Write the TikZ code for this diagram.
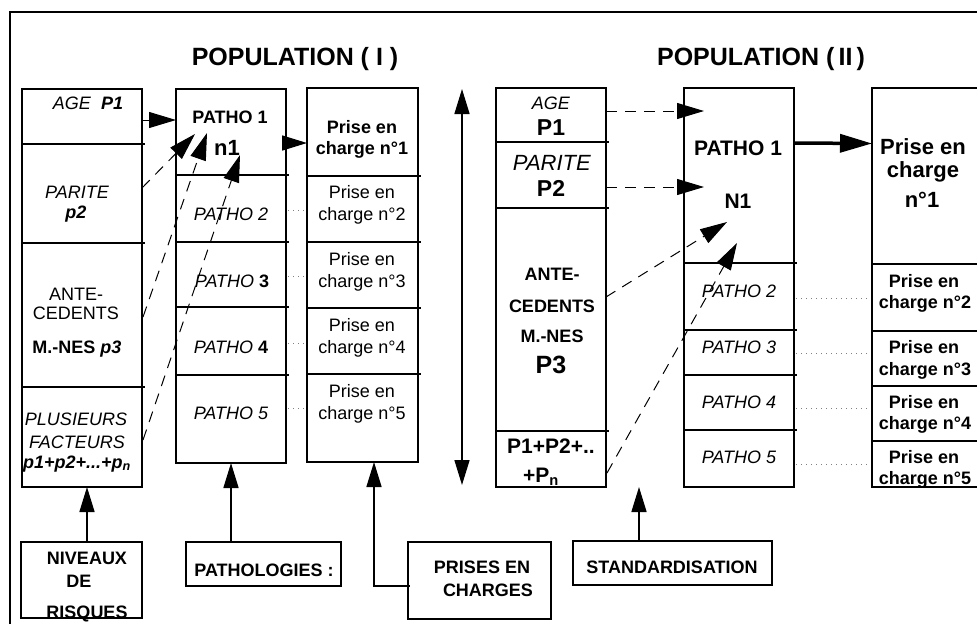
\documentclass[tikz,border=0pt]{standalone}
\usepackage{fontspec}
\setmainfont{Liberation Sans}
\usetikzlibrary{arrows.meta,fit,calc}
\newcommand\fz[1]{\fontsize{#1}{#1}\selectfont}
\begin{document}
\begin{tikzpicture}[x=1pt,y=-1pt,
  colbox/.style={draw, line width=2pt, inner sep=0pt, outer sep=0pt},
  area/.style={inner sep=0pt, outer sep=0pt},
  rule/.style={line width=1.6pt},
  txt/.style={inner sep=0pt, outer sep=0pt, anchor=base, font=\fz{18}},
  dasharrow/.style={line width=1pt, dash pattern=on 11pt off 8pt, -{Triangle[length=27pt,width=16pt]}},
  solidarrow/.style={line width=1.6pt, -{Triangle[length=25pt,width=15pt]}},
  dots/.style={line width=1pt, gray, dash pattern=on 1pt off 4pt},
]
\useasboundingbox (0,0) rectangle (977,624);
% outer frame
\draw[line width=2pt] (10,624) -- (10,12) -- (990,12);

% titles
\node[txt, font=\fz{25}\bfseries] (title1) at (295,65) {POPULATION ( I )};
\node[txt, font=\fz{25}\bfseries] (title2) at (761,65) {POPULATION (\,II\,)};

% ---------- population I : risk factors ----------
\node[colbox, fit={(22,89)(142,487)}] (colA) {};
\node[area, fit={(22,89)(142,144)}] (a1) {};
\node[area, fit={(22,144)(142,243)}] (a2) {};
\node[area, fit={(22,243)(142,387)}] (a3) {};
\node[area, fit={(22,387)(142,487)}] (a4) {};
\foreach \c in {a1,a2,a3} \draw[rule] (\c.south west) -- ([xshift=3pt]\c.south east);

\node[txt] (ta1) at (88,109) {\textit{AGE}\ \ \textbf{\textit{P1}}};
\node[txt] (ta2) at (77,198) {\textit{PARITE}};
\node[txt] (ta3) at (76,218) {\textbf{\textit{p2}}};
\node[txt] (ta4) at (76,300) {ANTE-};
\node[txt] (ta5) at (76,319) {CEDENTS};
\node[txt] (ta6) at (77,353) {\textbf{M.-NES \textit{p3}}};
\node[txt] (ta7) at (76,425) {\textit{PLUSIEURS}};
\node[txt] (ta8) at (77,448) {\textit{FACTEURS}};
\node[txt] (ta9) at (77,468) {\textbf{\textit{p1+p2+...+p\textsubscript{n}}}};

% ---------- population I : pathologies ----------
\node[colbox, fit={(176,89)(286,463)}] (colP) {};
\node[area, fit={(176,89)(286,175)}] (p1) {};
\node[area, fit={(176,175)(286,242)}] (p2) {};
\node[area, fit={(176,242)(286,307)}] (p3) {};
\node[area, fit={(176,307)(286,375)}] (p4) {};
\node[area, fit={(176,375)(286,463)}] (p5) {};
\foreach \c in {p1,p2,p3,p4} \draw[rule] (\c.south west) -- ([xshift=3pt]\c.south east);

\node[txt] (tp1) at (230,123) {\textbf{PATHO 1}};
\node[txt, font=\fz{22}] (tp1n) at (227,155) {\textbf{n1}};
\node[txt] (tp2) at (231,220) {\textit{PATHO 2}};
\node[txt] (tp3) at (232,287) {\textit{PATHO} \textbf{3}};
\node[txt] (tp4) at (231,353) {\textit{PATHO} \textbf{4}};
\node[txt] (tp5) at (231,419) {\textit{PATHO 5}};

% ---------- population I : care ----------
\node[colbox, fit={(307,88)(418,462)}] (colR) {};
\node[area, fit={(307,88)(418,176)}] (r1) {};
\node[area, fit={(307,176)(418,242)}] (r2) {};
\node[area, fit={(307,242)(418,308)}] (r3) {};
\node[area, fit={(307,308)(418,374)}] (r4) {};
\node[area, fit={(307,374)(418,462)}] (r5) {};
\foreach \c in {r1,r2,r3,r4} \draw[rule] (\c.south west) -- ([xshift=3pt]\c.south east);

\node[txt] (tr1a) at (362,133) {\textbf{Prise en}};
\node[txt] (tr1b) at (362,154) {\textbf{charge n°1}};
\node[txt] (tr2a) at (362,198) {Prise en};
\node[txt] (tr2b) at (362,220) {charge n°2};
\node[txt] (tr3a) at (362,265) {Prise en};
\node[txt] (tr3b) at (362,287) {charge n°3};
\node[txt] (tr4a) at (362,331) {Prise en};
\node[txt] (tr4b) at (362,353) {charge n°4};
\node[txt] (tr5a) at (362,397) {Prise en};
\node[txt] (tr5b) at (362,419) {charge n°5};

% dotted guides between pathologies and care (I)
\path ($(p2.east)+(2,1.5)$) coordinate (g2) ($(p3.east)+(2,1.5)$) coordinate (g3)
      ($(p4.east)+(2,2)$) coordinate (g4) ($(p5.east)+(2,-11)$) coordinate (g5);
\foreach \g in {g2,g3,g4,g5} \draw[dots] (\g) -- ($(\g -| colR.west)+(-2,0)$);

% arrows into PATHO 1 (I)
\coordinate (t1) at (176,120);
\coordinate (t2) at (195,134);
\coordinate (t3) at (207,133);
\coordinate (t4) at (240,155);
\draw[dasharrow] ($(a1.east)+(0,3.5)$) -- (t1);
\draw[dasharrow] ($(a2.east)+(0,-5.5)$) -- (t2);
\draw[dasharrow] ($(a3.east)+(1,2)$) -- (t3);
\draw[dasharrow] ($(a4.east)+(1,3)$) -- (t4);
\draw[solidarrow] ($(p1.east)+(0,11)$) -- ($(r1.west)+(0,11)$);

% vertical double arrow between the populations
\coordinate (vtop) at (462,89);
\coordinate (vbot) at (462,485);
\draw[line width=1.6pt, {Triangle[length=25pt,width=15pt]}-{Triangle[length=25pt,width=15pt]}] (vbot) -- (vtop);

% ---------- population II : risk factors ----------
\node[colbox, fit={(496,88)(606,487)}] (colB) {};
\node[area, fit={(496,88)(606,142)}] (b1) {};
\node[area, fit={(496,142)(606,208)}] (b2) {};
\node[area, fit={(496,208)(606,431)}] (b3) {};
\node[area, fit={(496,431)(606,487)}] (b4) {};
\foreach \c in {b1,b2,b3} \draw[rule] (\c.south west) -- ([xshift=3pt]\c.south east);

\node[txt] (tb1) at (551,109) {\textit{AGE}};
\node[txt, font=\fz{23}] (tb2) at (551,135) {\textbf{P1}};
\node[txt, font=\fz{22}] (tb3) at (552,170) {\textit{PARITE}};
\node[txt, font=\fz{23}] (tb4) at (551,196) {\textbf{P2}};
\node[txt] (tb5) at (552,280) {\textbf{ANTE-}};
\node[txt] (tb6) at (552,312) {\textbf{CEDENTS}};
\node[txt] (tb7) at (552,342) {\textbf{M.-NES}};
\node[txt, font=\fz{25}] (tb8) at (551,373) {\textbf{P3}};
\node[txt, font=\fz{21}] (tb9) at (551,453) {\textbf{P1+P2+..}};
\node[txt, font=\fz{21}] (tb10) at (541,482) {\textbf{+P\textsubscript{n}}};

% ---------- population II : pathologies ----------
\node[colbox, fit={(684,88)(794,487)}] (colQ) {};
\node[area, fit={(684,88)(794,263)}] (q1) {};
\node[area, fit={(684,263)(794,330)}] (q2) {};
\node[area, fit={(684,330)(794,375)}] (q3) {};
\node[area, fit={(684,375)(794,430)}] (q4) {};
\node[area, fit={(684,430)(794,487)}] (q5) {};
\foreach \c in {q1,q2,q3,q4} \draw[rule] (\c.south west) -- ([xshift=3pt]\c.south east);

\node[txt, font=\fz{21}] (tq1) at (738,155) {\textbf{PATHO 1}};
\node[txt, font=\fz{21}] (tq1n) at (738,208) {\textbf{N1}};
\node[txt] (tq2) at (739,297) {\textit{PATHO 2}};
\node[txt] (tq3) at (739,353) {\textit{PATHO 3}};
\node[txt] (tq4) at (739,408) {\textit{PATHO 4}};
\node[txt] (tq5) at (739,463) {\textit{PATHO 5}};

% ---------- population II : care ----------
\node[colbox, fit={(872,88)(990,487)}] (colS) {};
\node[area, fit={(872,88)(990,264)}] (s1) {};
\node[area, fit={(872,264)(990,331)}] (s2) {};
\node[area, fit={(872,331)(990,386)}] (s3) {};
\node[area, fit={(872,386)(990,441)}] (s4) {};
\node[area, fit={(872,441)(990,487)}] (s5) {};
\foreach \c in {s1,s2,s3,s4} \draw[rule] (\c.south west) -- (\c.south east);

\node[txt, font=\fz{22}] (ts1a) at (923,154) {\textbf{Prise en}};
\node[txt, font=\fz{22}] (ts1b) at (923,177) {\textbf{charge}};
\node[txt, font=\fz{22}] (ts1c) at (922,207) {\textbf{n°1}};
\node[txt] (ts2a) at (924,287) {\textbf{Prise en}};
\node[txt] (ts2b) at (925,308) {\textbf{charge n°2}};
\node[txt] (ts3a) at (924,353) {\textbf{Prise en}};
\node[txt] (ts3b) at (925,375) {\textbf{charge n°3}};
\node[txt] (ts4a) at (924,408) {\textbf{Prise en}};
\node[txt] (ts4b) at (925,429) {\textbf{charge n°4}};
\node[txt] (ts5a) at (924,463) {\textbf{Prise en}};
\node[txt] (ts5b) at (925,484) {\textbf{charge n°5}};
\draw[line width=2pt] (colS.south west) -- (colS.south east);

% dotted guides between pathologies and care (II)
\path ($(q2.east)+(2,1.5)$) coordinate (h2) ($(q3.east)+(2,0.5)$) coordinate (h3)
      ($(q4.east)+(2,5.5)$) coordinate (h4) ($(q5.east)+(2,5.5)$) coordinate (h5);
\foreach \h in {h2,h3,h4,h5} \draw[dots] (\h) -- ($(\h -| colS.west)+(-2,0)$);

% arrows into PATHO 1 (II)
\coordinate (u1) at (704,111);
\coordinate (u2) at (704,187);
\coordinate (u3) at (727,222);
\coordinate (u4) at (737,243);
\draw[dasharrow] ($(b1.east)+(0,-4)$) -- (u1);
\draw[dasharrow] ($(b2.east)+(0,12)$) -- (u2);
\draw[dasharrow] ($(b3.east)+(0,-22.5)$) -- (u3);
\draw[dasharrow] ($(b4.east)+(1,14)$) -- (u4);
\draw[line width=3.5pt, -{Triangle[length=32pt,width=18pt]}] ($(q1.east)+(0,-32.5)$) -- ($(s1.west)+(0,-32.5)$);

% ---------- labels at the bottom ----------
\node[txt] (tn1) at (87,564) {\textbf{NIVEAUX}};
\node[txt] (tn2) at (79,587) {\textbf{DE}};
\node[txt] (tn3) at (87,618.5) {\textbf{RISQUES}};
\node[colbox, fit={(21,542)(142,618)}] (niv) {};

\node[colbox, fit={(186,542)(341,586)}] (pat) {};
\node[txt] (tpat) at (264,576) {\textbf{PATHOLOGIES :}};

\node[colbox, fit={(408,542)(551,619)}] (pri) {};
\node[txt] (tpri1) at (482,573) {\textbf{PRISES EN}};
\node[txt] (tpri2) at (488,596) {\textbf{CHARGES}};

\node[colbox, fit={(573,541)(772,585)}] (std) {};
\node[txt] (tstd) at (672,573) {\textbf{STANDARDISATION}};
\coordinate (stdtip) at (639,487);

\draw[solidarrow] ($(niv.north)+(5.5,0)$) -- ($(colA.south)+(5,0)$);
\draw[solidarrow] (colP.south |- pat.north) -- (colP.south);
\draw[solidarrow] ($(pri.west)+(2,5.5)$) -| ($(colR.south)+(11.5,0)$);
\draw[solidarrow] (stdtip |- std.north) -- (stdtip);
\end{tikzpicture}
\end{document}
